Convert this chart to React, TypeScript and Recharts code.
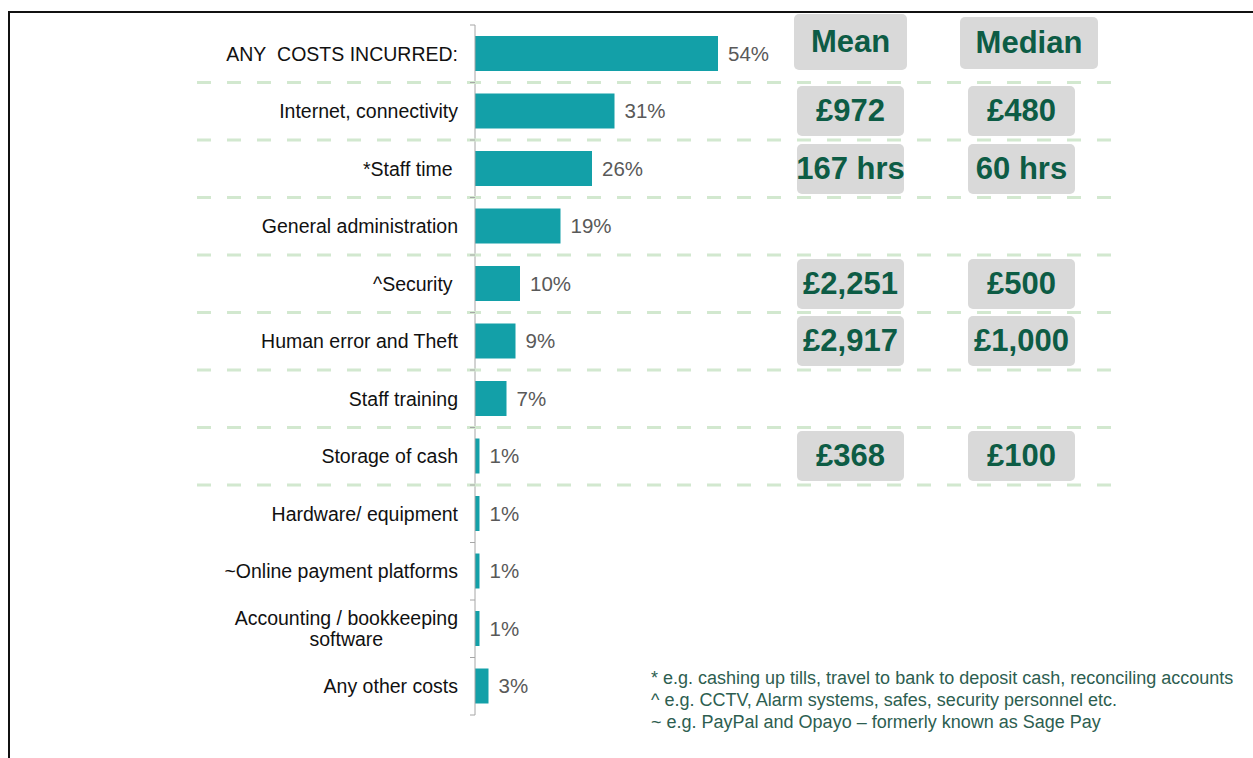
import { BarChart, Bar, XAxis, YAxis, LabelList } from "recharts";

const categories = [
  "ANY\u00a0 COSTS INCURRED:",
  "Internet, connectivity",
  "*Staff time\u00a0",
  "General administration",
  "^Security\u00a0",
  "Human error and Theft",
  "Staff training",
  "Storage of cash",
  "Hardware/ equipment",
  "~Online payment platforms",
  "Accounting / bookkeeping\nsoftware",
  "Any other costs",
];

const percentages = [54, 31, 26, 19, 10, 9, 7, 1, 1, 1, 1, 3];

const tableHeaders = ["Mean", "Median"];
const meanValues = ["", "£972", "167 hrs", "", "£2,251", "£2,917", "", "£368", "", "", "", ""];
const medianValues = ["", "£480", "60 hrs", "", "£500", "£1,000", "", "£100", "", "", "", ""];

const footnotes = [
  "* e.g. cashing up tills, travel to bank to deposit cash, reconciling accounts",
  "^ e.g. CCTV, Alarm systems, safes, security personnel etc.",
  "~ e.g. PayPal and Opayo \u2013 formerly known as Sage Pay",
];

const data = categories.map((name, i) => ({ name, pct: percentages[i] }));

const WIDTH = 1253;
const HEIGHT = 758;
const TOP = 25;
const BOTTOM = 715;
const AXIS_X = 475;
const BAND = (BOTTOM - TOP) / categories.length;
const FONT = "'Liberation Sans', Arial, sans-serif";
const LABEL_SIZE = 19.5;
const GREEN = "#0d5c45";
const DASH_ROWS = 8;

let ctx: CanvasRenderingContext2D | null = null;
function textWidth(s: string) {
  if (!ctx) ctx = document.createElement("canvas").getContext("2d");
  if (!ctx) return s.length * 9;
  ctx.font = `${LABEL_SIZE}px ${FONT}`;
  return ctx.measureText(s).width;
}

function CategoryTick(props: any) {
  const { x, y, payload, index } = props;
  const lines = String(payload.value).split("\n");
  const right = x - 17;
  const lh = 21;
  const startY = y - ((lines.length - 1) * lh) / 2;
  const blockW = Math.max(...lines.map(textWidth));
  const multi = lines.length > 1;
  const yb = y + BAND / 2;
  return (
    <g>
      {index < DASH_ROWS && (
        <line
          x1={197}
          x2={1113}
          y1={yb}
          y2={yb}
          stroke="#d2e8cf"
          strokeWidth={3}
          strokeDasharray="14 16"
        />
      )}
      <line x1={x - 5} x2={x} y1={yb} y2={yb} stroke="#a6a6a6" />
      {index === 0 && (
        <line x1={x - 5} x2={x} y1={y - BAND / 2} y2={y - BAND / 2} stroke="#a6a6a6" />
      )}
      <text
        fontFamily={FONT}
        fontSize={LABEL_SIZE}
        fill="#111"
        textAnchor={multi ? "middle" : "end"}
      >
        {lines.map((l, i) => (
          <tspan key={i} x={multi ? right - blockW / 2 : right} y={startY + i * lh} dy="0.35em">
            {l}
          </tspan>
        ))}
      </text>
    </g>
  );
}

const boxStyle = {
  position: "absolute" as const,
  background: "#d9d9d9",
  borderRadius: 5,
  color: GREEN,
  fontFamily: FONT,
  fontWeight: 700,
  fontSize: 31,
  display: "flex",
  alignItems: "center",
  justifyContent: "center",
  whiteSpace: "nowrap" as const,
};

export default function App() {
  return (
    <div
      style={{
        position: "absolute",
        left: 0,
        top: 0,
        width: WIDTH,
        height: HEIGHT,
        background: "#fff",
        overflow: "hidden",
      }}
    >
      <div
        style={{
          position: "absolute",
          left: 8,
          top: 11,
          width: WIDTH,
          height: HEIGHT,
          borderTop: "2px solid #111",
          borderLeft: "2px solid #111",
        }}
      />
      <div style={{ position: "absolute", left: 0, top: 0 }}>
        <BarChart
          width={WIDTH}
          height={HEIGHT}
          data={data}
          layout="vertical"
          margin={{ top: TOP, right: WIDTH - AXIS_X - 450, bottom: HEIGHT - BOTTOM, left: 0 }}
        >
          <XAxis type="number" domain={[0, 100]} hide />
          <YAxis
            type="category"
            dataKey="name"
            width={AXIS_X}
            axisLine={{ stroke: "#a6a6a6" }}
            tickLine={false}
            tickSize={0}
            tickMargin={0}
            interval={0}
            tick={<CategoryTick />}
          />
          <Bar dataKey="pct" fill="#13a0a8" barSize={35} isAnimationActive={false}>
            <LabelList
              dataKey="pct"
              position="right"
              offset={10}
              fill="#595959"
              fontSize={20.5}
              fontFamily={FONT}
              formatter={(v: any) => `${v}%`}
            />
          </Bar>
        </BarChart>
      </div>

      <div style={{ ...boxStyle, left: 794, top: 14, width: 113, height: 56 }}>{tableHeaders[0]}</div>
      <div style={{ ...boxStyle, left: 960, top: 17, width: 138, height: 52 }}>{tableHeaders[1]}</div>

      {meanValues.map((v, i) =>
        v ? (
          <div
            key={"m" + i}
            style={{ ...boxStyle, left: 797, top: TOP + BAND * (i + 0.5) - 25, width: 107, height: 50 }}
          >
            {v}
          </div>
        ) : null
      )}
      {medianValues.map((v, i) =>
        v ? (
          <div
            key={"d" + i}
            style={{ ...boxStyle, left: 968, top: TOP + BAND * (i + 0.5) - 25, width: 107, height: 50 }}
          >
            {v}
          </div>
        ) : null
      )}

      <div
        style={{
          position: "absolute",
          left: 651,
          top: 667,
          fontFamily: FONT,
          fontSize: 18,
          lineHeight: "22px",
          color: "#2d5e50",
          whiteSpace: "nowrap",
        }}
      >
        {footnotes.map((f, i) => (
          <div key={i}>{f}</div>
        ))}
      </div>
    </div>
  );
}
